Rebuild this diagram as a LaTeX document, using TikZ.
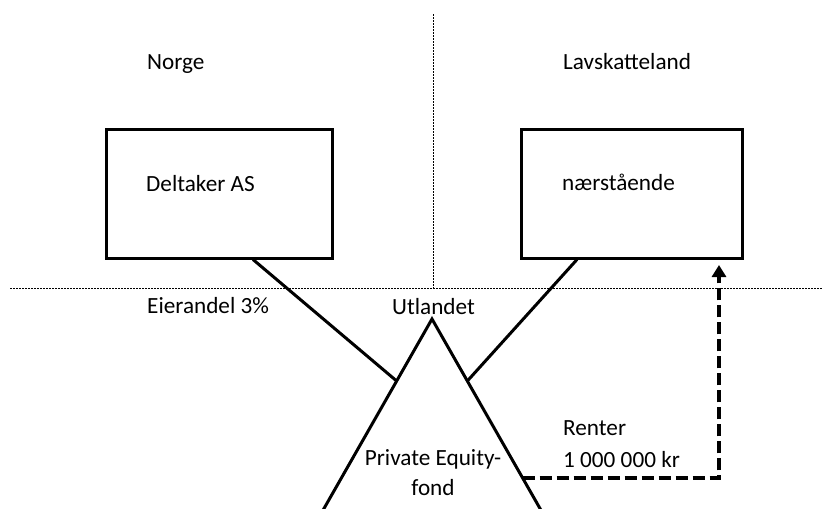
\documentclass[tikz,border=0pt]{standalone}
\usepackage{fontspec}
\setmainfont{Carlito}
\usetikzlibrary{arrows.meta,calc}
\tikzset{
  boxnode/.style={draw=black, line width=3pt, minimum height=129pt, inner sep=0pt},
  lbl/.style={anchor=base west, inner sep=0pt, font=\fontsize{23.2}{28}\selectfont},
  clbl/.style={anchor=base, inner sep=0pt, font=\fontsize{23.2}{28}\selectfont},
  divider/.style={line width=0.8pt, dash pattern=on 2pt off 1pt},
  solidline/.style={line width=3pt},
  flow/.style={line width=4pt, dash pattern=on 12pt off 5pt, -{Triangle[length=12pt,width=14pt]}}
}
\begin{document}
\begin{tikzpicture}[x=1pt,y=-1pt]
\useasboundingbox (0,0) rectangle (823,509);
% dividers
\coordinate (vtop) at (433,14);
\coordinate (vbot) at (433,288);
\coordinate (hl) at (10,288);
\coordinate (hr) at (823,288);
\draw[divider] (vtop) -- (vbot);
\draw[divider] (hl) -- (hr);
% region labels
\node[lbl] (norge) at (147,69) {Norge};
\node[lbl] (lav) at (563,69) {Lavskatteland};
\node[lbl] (eier) at (147,313) {Eierandel 3\%};
\node[lbl] (utl) at (392,314) {Utlandet};
% boxes
\node[boxnode, minimum width=226pt] (box1) at (219,193.5) {};
\node[boxnode, minimum width=221pt] (box2) at (631.5,193.5) {};
\node[lbl] (t1) at (146,191) {Deltaker AS};
\node[lbl] (t2) at (562,190) {nærstående};
% triangle
\coordinate (apex) at (432,319);
\coordinate (bl) at (318,519);
\coordinate (br) at (546,519);
\draw[solidline, line join=miter] (bl) -- (apex) -- (br);
\node[clbl] (pe1) at (433,465) {Private Equity-};
\node[clbl] (pe2) at (433,495) {fond};
% connectors
\coordinate (lend) at ($(apex)!0.31!(bl)$);
\coordinate (rend) at ($(apex)!0.31!(br)$);
\draw[solidline] ([xshift=34pt]box1.south) -- (lend);
\draw[solidline] ([xshift=-54.5pt]box2.south) -- (rend);
% dashed flow
\coordinate (fstart) at ($(apex)!0.795!(br)$);
\coordinate (tip) at (719,265);
\draw[flow] (fstart) -| (tip);
\node[lbl] (renter) at (563,435) {Renter};
\node[lbl] (amount) at (563,467) {1 000 000 kr};
\end{tikzpicture}
\end{document}
